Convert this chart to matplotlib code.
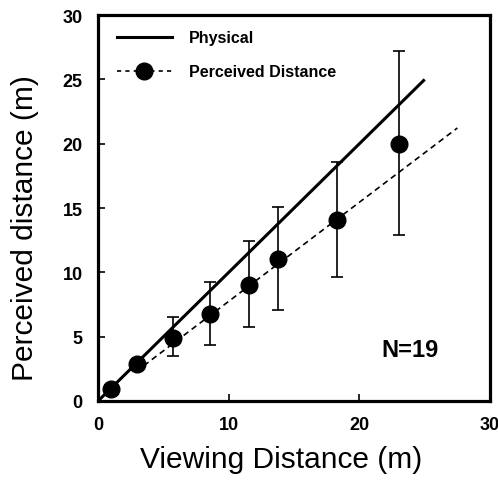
import matplotlib
matplotlib.use("Agg")
import matplotlib.pyplot as plt
import numpy as np
from matplotlib.lines import Line2D

plt.rcParams['font.family'] = ['Liberation Sans', 'DejaVu Sans']

# Data
viewing = [1.0, 3.0, 5.7, 8.55, 11.55, 13.75, 18.3, 23.0]
perceived = [0.9, 2.9, 4.9, 6.75, 9.0, 11.0, 14.1, 20.0]
err_upper = [1.0, 2.9, 6.5, 9.25, 12.45, 15.1, 18.6, 27.2]
err_lower = [0.9, 2.9, 3.5, 4.35, 5.75, 7.1, 9.6, 12.9]

physical_x = [0, 25]
fit_slope = 0.77
fit_intercept = 0.05
fit_x = [3.5, 27.5]

xticks = [0, 10, 20, 30]
yticks = [0, 5, 10, 15, 20, 25, 30]

fig = plt.figure(figsize=(4.98, 4.89), dpi=100)
ax = fig.add_axes([0.197, 0.178, 0.787, 0.789])

ax.plot(physical_x, physical_x, color='black', lw=2.2, solid_capstyle='butt')
fx = np.array(fit_x)
ax.plot(fx, fit_slope * fx + fit_intercept, color='black', lw=1.2,
        dashes=(3.5, 2.5))

p = np.array(perceived)
yerr = [p - np.array(err_lower), np.array(err_upper) - p]
ax.errorbar(viewing, perceived, yerr=yerr, fmt='none', ecolor='black',
            elinewidth=1.2, capsize=4, capthick=1.2)
ax.plot(viewing, perceived, 'o', color='black', markersize=12, zorder=5)

# Legend (manual handles)
h1 = Line2D([], [], color='black', lw=2.2)
h2 = Line2D([], [], color='black', lw=1.2, dashes=(2.5, 2.5), marker='o',
            markersize=12)
leg = ax.legend([h1, h2], ['Physical', 'Perceived Distance'], loc='upper left',
                frameon=False, prop={'weight': 'bold', 'size': 11.5},
                handlelength=3.4, borderaxespad=0.55, labelspacing=1.2,
                handletextpad=1.1, bbox_to_anchor=(0.01, 1.0))

ax.text(23.9, 4.0, 'N=19', fontsize=17, fontweight='bold', ha='center', va='center')

ax.set_xlim(0, 30)
ax.set_ylim(0, 30)
ax.set_xticks(xticks)
ax.set_yticks(yticks)
ax.tick_params(direction='in', length=5, width=1.2, labelsize=13, pad=11)
for lab in ax.get_xticklabels() + ax.get_yticklabels():
    lab.set_fontweight('bold')

for s in ax.spines.values():
    s.set_linewidth(2.3)

ax.set_xlabel('Viewing Distance (m)', fontsize=21.5)
ax.set_ylabel('Perceived distance (m)', fontsize=21.5)
ax.xaxis.set_label_coords(0.467, -0.115)
ax.yaxis.set_label_coords(-0.15, 0.45)

fig.savefig('out.png', dpi=100)
